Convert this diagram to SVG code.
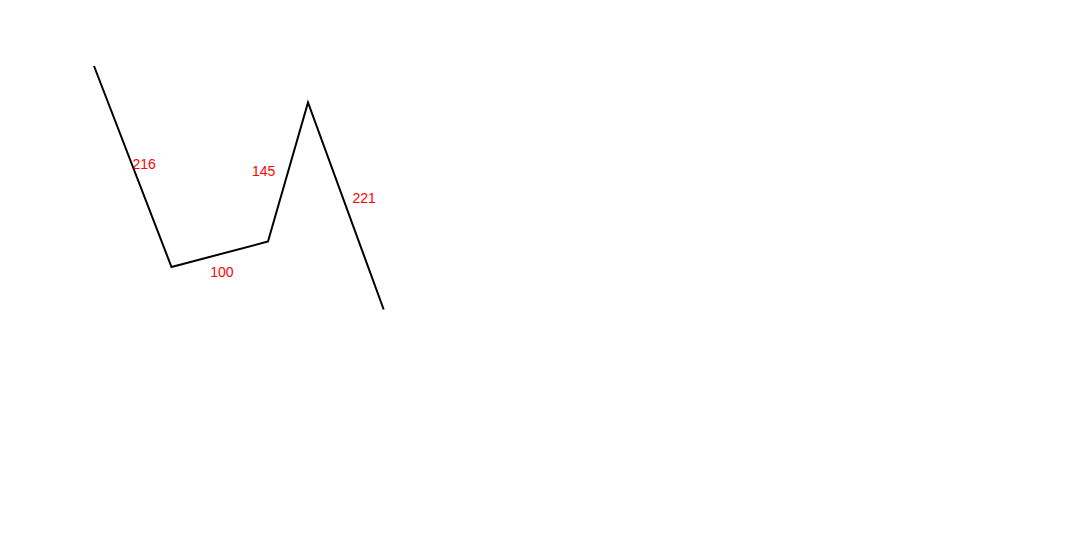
<svg xmlns="http://www.w3.org/2000/svg" width="1066" height="543" viewBox="0 0 1066 543">
<style>
.seg{fill:none;stroke:#000;stroke-width:2;stroke-linejoin:miter}
.lbl{font-family:"Liberation Sans",Arial,sans-serif;font-size:14px;fill:#ff0000}
</style>
<rect width="1066" height="543" fill="#fff"/>
<g id="connectors">
<polyline class="seg" points="94,66 171.5,267 268,241.5 308,102.5 383.7,309.5"/>
</g>
<g id="labels">
<text class="lbl" x="132.5" y="169">216</text>
<text class="lbl" x="210.3" y="276.7">100</text>
<text class="lbl" x="252" y="176">145</text>
<text class="lbl" x="352.5" y="202.7">221</text>
</g>
</svg>
